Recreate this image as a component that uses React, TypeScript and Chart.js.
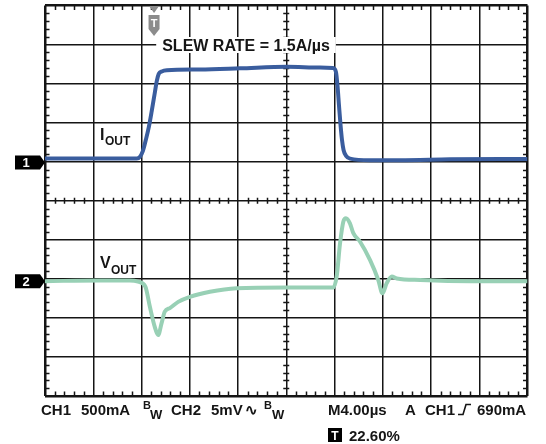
import { useEffect, useRef } from "react";
import { Chart, registerables } from "chart.js";

Chart.register(...registerables);

// Time axis: 4 µs/div, 10 divisions; vertical: divisions (-5..5) relative to screen center
const xTicksUs = [0, 4, 8, 12, 16, 20, 24, 28, 32, 36, 40];
const yTicksDiv = [-5, -4, -3, -2, -1, 0, 1, 2, 3, 4, 5];

// CH1 (I_OUT) trace
const ch1TimeUs = [0, 4.54, 7.61, 7.86, 8.11, 8.36, 8.61, 8.85, 9.1, 9.27, 9.43, 9.68, 10.1, 12.84, 16.16, 20.06, 22.8, 23.87, 24.12, 24.25, 24.37, 24.5, 24.62, 24.75, 24.96, 25.29, 26.94, 29.43, 33.58, 40];
const ch1Div = [1.08, 1.08, 1.08, 1.12, 1.27, 1.56, 1.89, 2.3, 2.76, 3.07, 3.25, 3.31, 3.34, 3.36, 3.39, 3.43, 3.41, 3.4, 3.3, 2.94, 2.45, 1.94, 1.56, 1.3, 1.15, 1.08, 1.04, 1.04, 1.06, 1.07];

// CH2 (V_OUT) trace
const ch2TimeUs = [0, 4.54, 7.03, 7.72, 8.32, 8.69, 9.1, 9.38, 9.66, 9.93, 10.35, 11.04, 12.01, 13.67, 15.88, 20.03, 23.9, 24.18, 24.46, 24.73, 24.95, 25.28, 25.56, 26.12, 26.95, 27.63, 27.97, 28.33, 28.75, 29.16, 31.1, 35.25, 40];
const ch2Div = [-2.06, -2.04, -2.04, -2.07, -2.2, -2.71, -3.23, -3.44, -3.14, -2.84, -2.75, -2.59, -2.46, -2.33, -2.24, -2.22, -2.22, -1.94, -1.09, -0.54, -0.45, -0.58, -0.83, -1.05, -1.52, -2.03, -2.37, -2.11, -1.94, -1.99, -2.03, -2.06, -2.06];

const ch1RefDiv = 0.98;
const ch2RefDiv = -2.06;
const triggerPosUs = 9.04;

const blue = "#3a5d9e";
const green = "#98d0b5";
const ink = "#151515";
const FONT = '"Liberation Sans", Arial, Helvetica, sans-serif';

function txt(ctx: CanvasRenderingContext2D, s: string, x: number, y: number, size: number, color = ink, align: CanvasTextAlign = "left") {
  ctx.save();
  ctx.font = `bold ${size}px ${FONT}`;
  ctx.fillStyle = color;
  ctx.textAlign = align;
  ctx.textBaseline = "alphabetic";
  ctx.fillText(s, x, y);
  ctx.restore();
}

const minorTicks = {
  id: "minorTicks",
  beforeDatasetsDraw(chart: any) {
    const ctx = chart.ctx as CanvasRenderingContext2D;
    const xs = chart.scales.x;
    const ys = chart.scales.y;
    const { left, right, top, bottom } = chart.chartArea;
    const cx = xs.getPixelForValue(20);
    const cy = ys.getPixelForValue(0);
    ctx.save();
    ctx.strokeStyle = ink;
    ctx.lineWidth = 1.5;
    ctx.beginPath();
    for (let i = 0; i < xTicksUs.length - 1; i++) {
      for (let k = 1; k < 5; k++) {
        const v = xTicksUs[i] + ((xTicksUs[i + 1] - xTicksUs[i]) * k) / 5;
        const px = Math.round(xs.getPixelForValue(v)) + 0.5;
        ctx.moveTo(px, top); ctx.lineTo(px, top + 4.5);
        ctx.moveTo(px, bottom); ctx.lineTo(px, bottom - 4.5);
        ctx.moveTo(px, cy - 3); ctx.lineTo(px, cy + 3);
      }
    }
    for (let i = 0; i < yTicksDiv.length - 1; i++) {
      for (let k = 1; k < 5; k++) {
        const v = yTicksDiv[i] + ((yTicksDiv[i + 1] - yTicksDiv[i]) * k) / 5;
        const py = Math.round(ys.getPixelForValue(v)) + 0.5;
        ctx.moveTo(left, py); ctx.lineTo(left + 4.5, py);
        ctx.moveTo(right, py); ctx.lineTo(right - 4.5, py);
        ctx.moveTo(cx - 3, py); ctx.lineTo(cx + 3, py);
      }
    }
    ctx.stroke();
    ctx.restore();
  },
};

const annotations = {
  id: "annotations",
  afterDraw(chart: any) {
    const ctx = chart.ctx as CanvasRenderingContext2D;
    const xs = chart.scales.x;
    const ys = chart.scales.y;
    const left = chart.chartArea.left;

    // channel markers
    const marker = (label: string, level: number) => {
      const y = ys.getPixelForValue(level);
      ctx.save();
      ctx.fillStyle = "#000";
      ctx.beginPath();
      ctx.moveTo(15, y - 7);
      ctx.lineTo(left - 5, y - 7);
      ctx.lineTo(left, y);
      ctx.lineTo(left - 5, y + 7);
      ctx.lineTo(15, y + 7);
      ctx.closePath();
      ctx.fill();
      ctx.restore();
      txt(ctx, label, 26, y + 5, 13, "#fff", "center");
    };
    marker("1", ch1RefDiv);
    marker("2", ch2RefDiv);

    // trigger position marker
    const tx = xs.getPixelForValue(triggerPosUs);
    ctx.save();
    ctx.fillStyle = "#8c8c8c";
    ctx.beginPath();
    ctx.moveTo(tx - 5, 6); ctx.lineTo(tx + 5, 6); ctx.lineTo(tx, 13); ctx.closePath();
    ctx.fill();
    ctx.beginPath();
    ctx.moveTo(tx - 5.5, 15); ctx.lineTo(tx + 5.5, 15); ctx.lineTo(tx + 5.5, 29); ctx.lineTo(tx, 36); ctx.lineTo(tx - 5.5, 29); ctx.closePath();
    ctx.fill();
    ctx.restore();
    txt(ctx, "T", tx, 27, 11, "#fff", "center");

    // slew rate label with white background
    ctx.save();
    ctx.font = `bold 16px ${FONT}`;
    const s = "SLEW RATE = 1.5A/\u00b5s";
    const w = ctx.measureText(s).width;
    const sx = 246;
    ctx.fillStyle = "#fff";
    ctx.fillRect(sx - w / 2 - 6, 37, w + 12, 16);
    ctx.restore();
    txt(ctx, s, sx, 51, 16, ink, "center");

    // trace labels
    txt(ctx, "I", 100, 140, 16);
    txt(ctx, "OUT", 105, 145, 12);
    txt(ctx, "V", 100, 268, 16);
    txt(ctx, "OUT", 111, 274, 12);

    // bottom status text
    const b1 = 415;
    txt(ctx, "CH1", 41, b1, 15);
    txt(ctx, "500mA", 81, b1, 15);
    txt(ctx, "B", 143, b1 - 6, 11);
    txt(ctx, "W", 150, b1 + 4, 13);
    txt(ctx, "CH2", 171, b1, 15);
    txt(ctx, "5mV", 211, b1, 15);
    txt(ctx, "\u223f", 245, b1, 15);
    txt(ctx, "B", 264, b1 - 6, 11);
    txt(ctx, "W", 272, b1 + 4, 13);
    txt(ctx, "M4.00\u00b5s", 328, b1, 15);
    txt(ctx, "A", 405, b1, 15);
    txt(ctx, "CH1", 425, b1, 15);
    ctx.save();
    ctx.strokeStyle = ink;
    ctx.lineWidth = 1.6;
    ctx.beginPath();
    ctx.moveTo(458, b1 - 0.5); ctx.lineTo(463, b1 - 0.5); ctx.lineTo(466, b1 - 10.5); ctx.lineTo(471, b1 - 10.5);
    ctx.stroke();
    ctx.restore();
    txt(ctx, "690mA", 477, b1, 15);

    const b2 = 441;
    ctx.save();
    ctx.fillStyle = "#000";
    ctx.fillRect(328, b2 - 13, 14, 14);
    ctx.restore();
    txt(ctx, "T", 335, b2 - 1.5, 12, "#fff", "center");
    txt(ctx, "22.60%", 349, b2, 15);
  },
};

export default function App() {
  const ref = useRef<HTMLCanvasElement | null>(null);
  useEffect(() => {
    if (!ref.current) return;
    const gridWidth = (c: any) => (c.index === 0 || c.index === 10 ? 2.5 : 1.5);
    const chart = new Chart(ref.current, {
      type: "line",
      data: {
        datasets: [
          {
            label: "IOUT",
            data: ch1TimeUs.map((t, i) => ({ x: t, y: ch1Div[i] })),
            borderColor: blue,
            borderWidth: 4,
            pointRadius: 0,
            cubicInterpolationMode: "monotone",
            fill: false,
          },
          {
            label: "VOUT",
            data: ch2TimeUs.map((t, i) => ({ x: t, y: ch2Div[i] })),
            borderColor: green,
            borderWidth: 4,
            pointRadius: 0,
            cubicInterpolationMode: "monotone",
            fill: false,
          },
        ],
      },
      options: {
        animation: false,
        responsive: false,
        devicePixelRatio: 1,
        layout: { padding: { left: 45, right: 18.5, top: 5.5, bottom: 48 } },
        plugins: { legend: { display: false }, tooltip: { enabled: false } },
        scales: {
          x: {
            type: "linear",
            min: 0,
            max: 40,
            ticks: { display: false, stepSize: 4 },
            grid: { color: ink, lineWidth: gridWidth, drawTicks: false },
            border: { display: false },
            afterFit: (s: any) => { s.height = 0; },
          },
          y: {
            type: "linear",
            min: -5,
            max: 5,
            ticks: { display: false, stepSize: 1 },
            grid: { color: ink, lineWidth: gridWidth, drawTicks: false },
            border: { display: false },
            afterFit: (s: any) => { s.width = 0; },
          },
        },
      },
      plugins: [minorTicks, annotations],
    } as any);
    return () => chart.destroy();
  }, []);
  return (
    <div style={{ position: "absolute", left: 0, top: 0, width: 546, height: 444, background: "#fff" }}>
      <canvas ref={ref} width={546} height={444} style={{ display: "block" }} />
    </div>
  );
}
